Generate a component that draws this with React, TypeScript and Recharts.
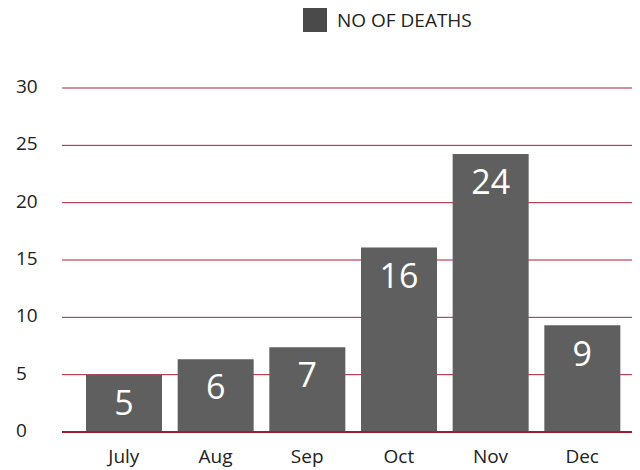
import { BarChart, Bar, XAxis, YAxis, CartesianGrid, LabelList } from "recharts";

const months = ["July", "Aug", "Sep", "Oct", "Nov", "Dec"];
const deaths = [5, 6.35, 7.4, 16.1, 24.25, 9.3];
const yTicks = [0, 5, 10, 15, 20, 25, 30];

const chartData = months.map((m, i) => ({ month: m, deaths: deaths[i] }));

const FONT = "'Open Sans', sans-serif";

const YTick = (props: any) => (
  <text x={16} y={props.y} dy={5} fontSize={19} fill="#222" fontFamily={FONT} textAnchor="start">
    {props.payload.value}
  </text>
);

const XTick = (props: any) => (
  <text x={props.x} y={props.y} dy={23} fontSize={19} fill="#222" fontFamily={FONT} textAnchor="middle">
    {props.payload.value}
  </text>
);

export default function App() {
  return (
    <div style={{ position: "absolute", left: 0, top: 0, width: 640, height: 470, background: "#fff" }}>
      <div style={{ position: "absolute", left: 303, top: 8, height: 24, display: "flex", alignItems: "center", fontFamily: FONT }}>
        <div style={{ width: 24, height: 24, background: "#4a4a4a" }} />
        <span style={{ marginLeft: 10, fontSize: 19, color: "#222" }}>NO OF DEATHS</span>
      </div>
      <BarChart width={640} height={470} data={chartData} margin={{ top: 88, right: 8, bottom: 8, left: 0 }}>
        <CartesianGrid vertical={false} stroke="#b01e35" strokeWidth={1} />
        <XAxis
          dataKey="month"
          padding={{ left: 16, right: 4 }}
          height={30}
          axisLine={{ stroke: "#a6192e", strokeWidth: 2 }}
          tickLine={false}
          tick={<XTick />}
        />
        <YAxis
          width={62}
          domain={[0, 30]}
          ticks={yTicks}
          axisLine={false}
          tickLine={false}
          tick={<YTick />}
        />
        <Bar dataKey="deaths" fill="#5f5f5f" barSize={76} isAnimationActive={false}>
          <LabelList
            dataKey="deaths"
            position="insideTop"
            offset={16}
            formatter={(v: any) => Math.round(Number(v))}
            fill="#fff"
            fontSize={34}
            fontFamily={FONT}
          />
        </Bar>
      </BarChart>
    </div>
  );
}
